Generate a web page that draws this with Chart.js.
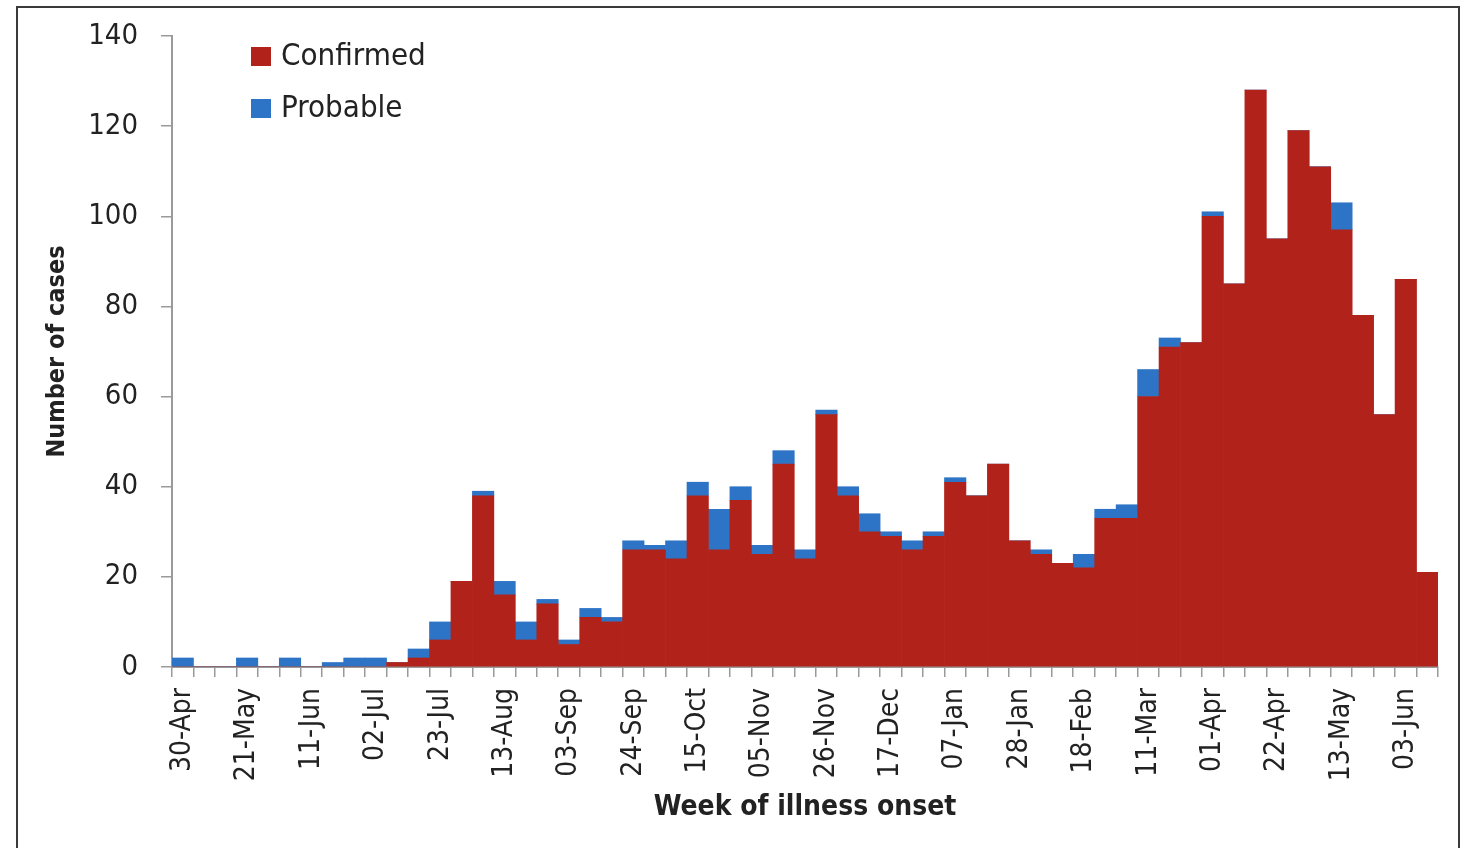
<!DOCTYPE html>
<html>
<head>
<meta charset="utf-8">
<title>Week of illness onset</title>
<script src="https://cdn.jsdelivr.net/npm/chart.js@4"></script>
<style>
    html, body { margin: 0; padding: 0; background: #fff; }
    #wrap { width: 1465px; height: 848px; }
</style>
</head>
<body>
<div id="wrap"><canvas id="casesChart" width="1465" height="848"></canvas></div>
<script>
// Weekly counts (week starting dates)
const weeks = [
    '30-Apr', '07-May', '14-May', '21-May', '28-May', '04-Jun', '11-Jun', '18-Jun', '25-Jun', '02-Jul',
    '09-Jul', '16-Jul', '23-Jul', '30-Jul', '06-Aug', '13-Aug', '20-Aug', '27-Aug', '03-Sep', '10-Sep',
    '17-Sep', '24-Sep', '01-Oct', '08-Oct', '15-Oct', '22-Oct', '29-Oct', '05-Nov', '12-Nov', '19-Nov',
    '26-Nov', '03-Dec', '10-Dec', '17-Dec', '24-Dec', '31-Dec', '07-Jan', '14-Jan', '21-Jan', '28-Jan',
    '04-Feb', '11-Feb', '18-Feb', '25-Feb', '04-Mar', '11-Mar', '18-Mar', '25-Mar', '01-Apr', '08-Apr',
    '15-Apr', '22-Apr', '29-Apr', '06-May', '13-May', '20-May', '27-May', '03-Jun', '10-Jun'
];
const tickWeeks = [
    '30-Apr', '21-May', '11-Jun', '02-Jul', '23-Jul', '13-Aug', '03-Sep', '24-Sep', '15-Oct', '05-Nov',
    '26-Nov', '17-Dec', '07-Jan', '28-Jan', '18-Feb', '11-Mar', '01-Apr', '22-Apr', '13-May', '03-Jun'
];
const confirmed = [
    0, 0, 0, 0, 0, 0, 0, 0, 0, 0,
    1, 2, 6, 19, 38, 16, 6, 14, 5, 11,
    10, 26, 26, 24, 38, 26, 37, 25, 45, 24,
    56, 38, 30, 29, 26, 29, 41, 38, 45, 28,
    25, 23, 22, 33, 33, 60, 71, 72, 100, 85,
    128, 95, 119, 111, 97, 78, 56, 86, 21
];
const probable = [
    2, 0, 0, 2, 0, 2, 0, 1, 2, 2,
    0, 2, 4, 0, 1, 3, 4, 1, 1, 2,
    1, 2, 1, 4, 3, 9, 3, 2, 3, 2,
    1, 2, 4, 1, 2, 1, 1, 0, 0, 0,
    1, 0, 3, 2, 3, 6, 2, 0, 1, 0,
    0, 0, 0, 0, 6, 0, 0, 0, 0
];
const yTicks = [0, 20, 40, 60, 80, 100, 120, 140];

const FONT = "'Liberation Sans Narrow', 'DejaVu Sans Condensed', 'Roboto', sans-serif";
const RED = '#b0221a';
const BLUE = '#2e74c6';

// outer frame of the figure
const framePlugin = {
    id: 'frame',
    beforeDraw(chart) {
        const ctx = chart.ctx;
        ctx.save();
        ctx.fillStyle = '#fff';
        ctx.fillRect(0, 0, chart.width, chart.height);
        ctx.strokeStyle = '#3a3a3a';
        ctx.lineWidth = 2;
        ctx.strokeRect(17, 7, 1442, 900);
        ctx.restore();
    }
};

// legend in the top-left of the plot
const boxLegend = {
    id: 'boxLegend',
    afterDraw(chart) {
        const ctx = chart.ctx;
        ctx.save();
        ctx.font = '31px ' + FONT;
        ctx.textBaseline = 'middle';
        chart.data.datasets.forEach((ds, i) => {
            const y = 57 + i * 52;
            ctx.fillStyle = ds.backgroundColor;
            ctx.fillRect(251, y - 10, 20, 19);
            ctx.fillStyle = '#222';
            ctx.fillText(ds.label, 281, y);
        });
        ctx.restore();
    }
};

const ctx = document.getElementById('casesChart').getContext('2d');
new Chart(ctx, {
    type: 'bar',
    data: {
        labels: weeks,
        datasets: [
            { label: 'Confirmed', data: confirmed, backgroundColor: RED, borderWidth: 0 },
            { label: 'Probable', data: probable, backgroundColor: BLUE, borderWidth: 0 }
        ]
    },
    options: {
        responsive: false,
        animation: false,
        devicePixelRatio: 1,
        barPercentage: 1,
        categoryPercentage: 1,
        layout: { padding: { left: 0, top: 36, right: 27, bottom: 0 } },
        plugins: {
            legend: { display: false },
            tooltip: { enabled: false }
        },
        scales: {
            x: {
                stacked: true,
                afterFit(scale) {
                    scale.height = 181;
                    scale.paddingLeft = 0;
                    scale.paddingRight = 0;
                },
                border: { color: '#9a9a9a', width: 2 },
                grid: { drawOnChartArea: false, color: '#9a9a9a', tickLength: 10, lineWidth: 1.5 },
                ticks: {
                    autoSkip: false,
                    minRotation: 90,
                    maxRotation: 90,
                    padding: 11,
                    color: '#222',
                    font: { family: FONT, size: 28 },
                    callback(value) {
                        const lab = this.getLabelForValue(value);
                        return tickWeeks.includes(lab) ? lab : '';
                    }
                },
                title: {
                    display: true,
                    text: 'Week of illness onset',
                    color: '#222',
                    font: { family: FONT, size: 28, weight: 'bold' },
                    padding: { top: 0, bottom: 23 }
                }
            },
            y: {
                stacked: true,
                min: 0,
                max: 140,
                afterFit(scale) {
                    scale.width = 172;
                    scale.paddingTop = 0;
                    scale.paddingBottom = 0;
                },
                afterBuildTicks(scale) { scale.ticks = yTicks.map(v => ({ value: v })); },
                border: { color: '#9a9a9a', width: 2 },
                grid: { drawOnChartArea: false, color: '#9a9a9a', tickLength: 11, lineWidth: 1.5 },
                ticks: {
                    padding: 23,
                    color: '#222',
                    font: { family: FONT, size: 29 }
                },
                title: {
                    display: true,
                    text: 'Number of cases',
                    color: '#222',
                    font: { family: FONT, size: 25, weight: 'bold' },
                    padding: { top: 42, bottom: 0 }
                }
            }
        }
    },
    plugins: [framePlugin, boxLegend]
});
</script>
</body>
</html>
